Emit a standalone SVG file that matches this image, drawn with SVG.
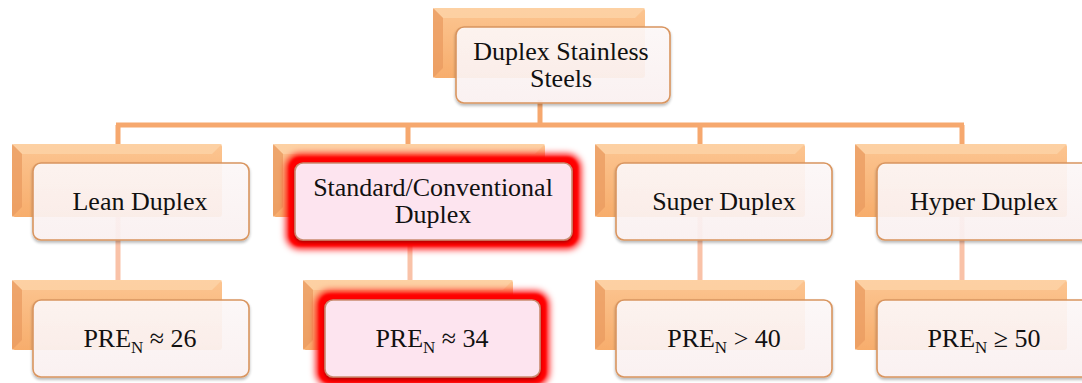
<svg xmlns="http://www.w3.org/2000/svg" width="1082" height="383" viewBox="0 0 1082 383">
  <defs>
    <linearGradient id="backFill" x1="0" y1="0" x2="0" y2="1">
      <stop offset="0" stop-color="#fcc591"/>
      <stop offset="1" stop-color="#f7ad6c"/>
    </linearGradient>
    <linearGradient id="frontFill" x1="0" y1="0" x2="0" y2="1">
      <stop offset="0" stop-color="#fffafa"/>
      <stop offset="1" stop-color="#fdf3f3"/>
    </linearGradient>
    <filter id="softShadow" x="-10%" y="-10%" width="120%" height="130%">
      <feGaussianBlur in="SourceAlpha" stdDeviation="1.5"/>
      <feOffset dx="0" dy="2"/>
      <feComponentTransfer><feFuncA type="linear" slope="0.3"/></feComponentTransfer>
      <feMerge><feMergeNode/><feMergeNode in="SourceGraphic"/></feMerge>
    </filter>
    <filter id="redGlow" x="-20%" y="-40%" width="140%" height="180%">
      <feGaussianBlur stdDeviation="3.5"/>
    </filter>
    <filter id="redCore" x="-10%" y="-20%" width="120%" height="140%">
      <feGaussianBlur stdDeviation="1.2"/>
    </filter>
    <filter id="backSoft" x="-5%" y="-5%" width="110%" height="110%">
      <feGaussianBlur stdDeviation="0.6"/>
    </filter>
  </defs>
  <style>
    .back { fill: url(#backFill); filter: url(#backSoft); }
    .bevelL { fill: #e99b60; opacity: 0.75; }
    .bevelT { fill: #fdd3a8; opacity: 0.8; }
    .front { fill: url(#frontFill); fill-opacity: 0.9; stroke: #d9955f; stroke-width: 1.6; filter: url(#softShadow); }
    .hot { fill: #fde4ef; fill-opacity: 1; stroke: #c98a70; }
    .glow { fill: #ff0000; filter: url(#redGlow); }
    .core { fill: #ff0000; filter: url(#redCore); }
    .lbl { font-family: "Liberation Serif", "Times New Roman", serif; font-size: 26px; fill: #111111; text-anchor: middle; }
    .sub { font-size: 17px; }
    .link { stroke: #f6a86e; stroke-width: 5; fill: none; }
    .link2 { stroke: #f9c2a8; stroke-width: 5; fill: none; }
  </style>

  <!-- connectors -->
  <g id="connectors">
    <path class="link" d="M540 100 V125 M116 125 H964 M118 125 V146 M408 125 V146 M700 125 V146 M962 125 V146"/>
    <path class="link2" d="M118 216 V282 M410 216 V282 M700 216 V282 M962 216 V282"/>
  </g>

  <!-- root -->
  <g id="root">
    <rect class="back" x="433" y="8" width="212" height="70" rx="3"/>
    <polygon class="bevelT" points="433,8 645,8 635,18 443,18"/>
    <polygon class="bevelL" points="433,8 443,18 443,68 433,78"/>
    <rect class="front" x="456" y="27" width="214" height="76" rx="8"/>
    <text class="lbl" x="561" y="60">Duplex Stainless</text>
    <text class="lbl" x="561" y="87">Steels</text>
  </g>

  <!-- second level -->
  <g id="lean">
    <rect class="back" x="12" y="144" width="210" height="73" rx="3"/>
    <polygon class="bevelT" points="12,144 222,144 212,154 22,154"/>
    <polygon class="bevelL" points="12,144 22,154 22,207 12,217"/>
    <rect class="front" x="33" y="163" width="216" height="77" rx="8"/>
    <text class="lbl" x="140" y="210">Lean Duplex</text>
  </g>

  <g id="standard">
    <rect class="back" x="273" y="144" width="272" height="73" rx="3"/>
    <polygon class="bevelT" points="273,144 545,144 535,154 283,154"/>
    <polygon class="bevelL" points="273,144 283,154 283,207 273,217"/>
    <rect class="glow" x="286" y="154" width="295" height="95" rx="14"/>
    <rect class="core" x="289" y="157" width="289" height="89" rx="11"/>
    <rect class="front hot" x="295" y="163" width="277" height="77" rx="8"/>
    <text class="lbl" x="433" y="196">Standard/Conventional</text>
    <text class="lbl" x="433" y="223">Duplex</text>
  </g>

  <g id="super">
    <rect class="back" x="595" y="144" width="210" height="73" rx="3"/>
    <polygon class="bevelT" points="595,144 805,144 795,154 605,154"/>
    <polygon class="bevelL" points="595,144 605,154 605,207 595,217"/>
    <rect class="front" x="616" y="163" width="216" height="77" rx="8"/>
    <text class="lbl" x="724" y="210">Super Duplex</text>
  </g>

  <g id="hyper">
    <rect class="back" x="855" y="144" width="212" height="73" rx="3"/>
    <polygon class="bevelT" points="855,144 1067,144 1057,154 865,154"/>
    <polygon class="bevelL" points="855,144 865,154 865,207 855,217"/>
    <rect class="front" x="877" y="163" width="216" height="77" rx="8"/>
    <text class="lbl" x="984" y="210">Hyper Duplex</text>
  </g>

  <!-- third level -->
  <g id="lean-pren">
    <rect class="back" x="12" y="280" width="210" height="70" rx="3"/>
    <polygon class="bevelT" points="12,280 222,280 212,290 22,290"/>
    <polygon class="bevelL" points="12,280 22,290 22,340 12,350"/>
    <rect class="front" x="33" y="300" width="216" height="77" rx="8"/>
    <text class="lbl" x="140" y="347">PRE<tspan class="sub" dy="6">N</tspan><tspan dy="-6"> ≈ 26</tspan></text>
  </g>

  <g id="standard-pren">
    <rect class="back" x="303" y="280" width="210" height="70" rx="3"/>
    <polygon class="bevelT" points="303,280 513,280 503,290 313,290"/>
    <polygon class="bevelL" points="303,280 313,290 313,340 303,350"/>
    <rect class="glow" x="316" y="291" width="233" height="95" rx="14"/>
    <rect class="core" x="319" y="294" width="227" height="89" rx="11"/>
    <rect class="front hot" x="325" y="300" width="215" height="77" rx="8"/>
    <text class="lbl" x="432" y="347">PRE<tspan class="sub" dy="6">N</tspan><tspan dy="-6"> ≈ 34</tspan></text>
  </g>

  <g id="super-pren">
    <rect class="back" x="595" y="280" width="210" height="70" rx="3"/>
    <polygon class="bevelT" points="595,280 805,280 795,290 605,290"/>
    <polygon class="bevelL" points="595,280 605,290 605,340 595,350"/>
    <rect class="front" x="616" y="300" width="216" height="77" rx="8"/>
    <text class="lbl" x="724" y="347">PRE<tspan class="sub" dy="6">N</tspan><tspan dy="-6"> &gt; 40</tspan></text>
  </g>

  <g id="hyper-pren">
    <rect class="back" x="855" y="280" width="212" height="70" rx="3"/>
    <polygon class="bevelT" points="855,280 1067,280 1057,290 865,290"/>
    <polygon class="bevelL" points="855,280 865,290 865,340 855,350"/>
    <rect class="front" x="877" y="300" width="216" height="77" rx="8"/>
    <text class="lbl" x="984" y="347">PRE<tspan class="sub" dy="6">N</tspan><tspan dy="-6"> ≥ 50</tspan></text>
  </g>
</svg>
